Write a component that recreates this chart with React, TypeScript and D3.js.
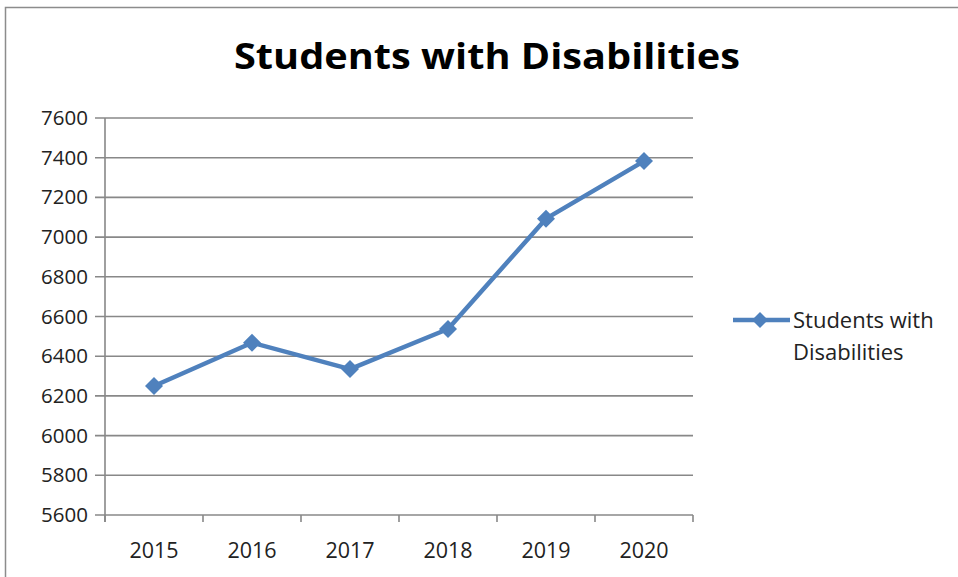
import React from "react";
import * as d3 from "d3";

const categories = ["2015", "2016", "2017", "2018", "2019", "2020"];
const values = [6250, 6468, 6335, 6537, 7093, 7383];
const yTicks = [5600, 5800, 6000, 6200, 6400, 6600, 6800, 7000, 7200, 7400, 7600];
const seriesName = "Students with Disabilities";
const legendLines = ["Students with", "Disabilities"];

const W = 958;
const H = 577;
const plotLeft = 105;
const plotRight = 693;
const plotTop = 118;
const plotBottom = 515;
const blue = "#4F81BD";
const grid = "#888888";
const font = "'Open Sans', Lato, sans-serif";

export default function App() {
  const x = d3.scaleBand<string>().domain(categories).range([plotLeft, plotRight]);
  const y = d3.scaleLinear().domain([5600, 7600]).range([plotBottom, plotTop]);
  const cx = (c: string) => (x(c) ?? 0) + x.bandwidth() / 2;
  const line = d3
    .line<number>()
    .x((_, i) => cx(categories[i]))
    .y((d) => y(d));
  const diamond = (px: number, py: number, r: number) =>
    `M${px},${py - r}L${px + r},${py}L${px},${py + r}L${px - r},${py}Z`;
  const boundaries = [...categories.map((c) => x(c) ?? 0), plotRight];

  return (
    <svg
      width={W}
      height={H}
      style={{ position: "absolute", left: 0, top: 0, background: "#fff" }}
    >
      <rect x={5.5} y={7.5} width={W + 10} height={H + 10} fill="#fff" stroke="#8c8c8c" strokeWidth={1.5} />
      <text
        x={487}
        y={69}
        textAnchor="middle"
        fontFamily={font}
        fontWeight={700}
        fontSize={36}
        textLength={506}
        lengthAdjust="spacingAndGlyphs"
        fill="#000"
      >
        {seriesName}
      </text>
      {yTicks.map((t) => (
        <g key={t}>
          <line x1={95} x2={plotRight} y1={y(t)} y2={y(t)} stroke={grid} strokeWidth={1.6} />
          <text
            x={88}
            y={y(t) + 7}
            textAnchor="end"
            fontFamily={font}
            fontSize={20.5}
            fill="#222"
          >
            {t}
          </text>
        </g>
      ))}
      <line x1={plotLeft} x2={plotLeft} y1={plotTop} y2={plotBottom + 7} stroke={grid} strokeWidth={1.6} />
      {boundaries.map((b, i) => (
        <line key={i} x1={b} x2={b} y1={plotBottom} y2={plotBottom + 7} stroke={grid} strokeWidth={1.6} />
      ))}
      {categories.map((c) => (
        <text
          key={c}
          x={cx(c)}
          y={558}
          textAnchor="middle"
          fontFamily={font}
          fontSize={21.5}
          fill="#222"
        >
          {c}
        </text>
      ))}
      <path d={line(values) ?? ""} fill="none" stroke={blue} strokeWidth={4.5} strokeLinejoin="round" />
      {values.map((v, i) => (
        <path key={i} d={diamond(cx(categories[i]), y(v), 9)} fill={blue} />
      ))}
      <line x1={733} x2={790} y1={320} y2={320} stroke={blue} strokeWidth={4.5} />
      <path d={diamond(760, 320, 8)} fill={blue} />
      {legendLines.map((l, i) => (
        <text key={i} x={793} y={328 + i * 32} fontFamily={font} fontSize={22} fill="#222">
          {l}
        </text>
      ))}
    </svg>
  );
}
